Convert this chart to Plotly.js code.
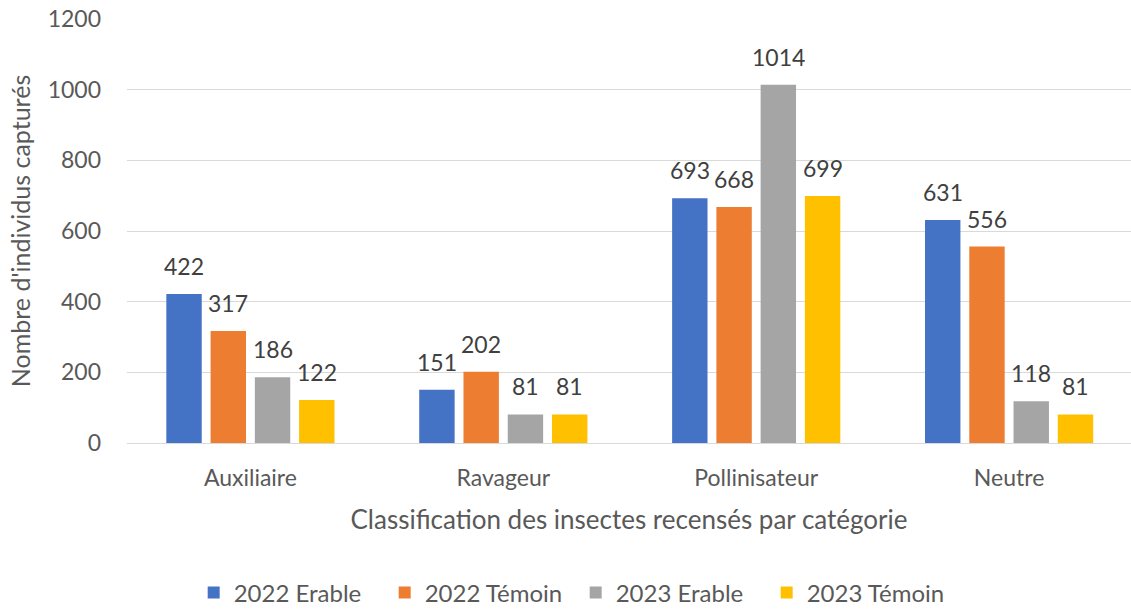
<!DOCTYPE html>
<html><head><meta charset="utf-8">
<script src="https://cdn.plot.ly/plotly-3.0.1.min.js"></script>
<style>html,body{margin:0;padding:0;background:#fff}#c{width:1131px;height:610px}</style>
</head><body><div id="c"></div>
<script>
const categories = ["Auxiliaire", "Ravageur", "Pollinisateur", "Neutre"];
const seriesNames = ["2022 Erable", "2022 Témoin", "2023 Erable", "2023 Témoin"];
const erable2022 = [422, 151, 693, 631];
const temoin2022 = [317, 202, 668, 556];
const erable2023 = [186, 81, 1014, 118];
const temoin2023 = [122, 81, 699, 81];
const colors = ["#4472C4", "#ED7D31", "#A5A5A5", "#FFC000"];
const allValues = [erable2022, temoin2022, erable2023, temoin2023];
const FONT = "Lato, 'Open Sans', sans-serif";

const BARGAP = 0.3;
const nSeries = allValues.length;
const slot = (1 - BARGAP) / nSeries;

const traces = allValues.map((v, i) => ({
  type: "bar", x: categories, y: v, name: seriesNames[i],
  marker: {color: colors[i]},
  hoverinfo: "x+y+name"
}));

// data labels placed above each bar, derived from the arrays
const annotations = [];
allValues.forEach((v, i) => {
  const off = -(1 - BARGAP) / 2 + slot * (i + 0.5);
  v.forEach((val, j) => {
    annotations.push({
      xref: "x", yref: "y", x: j + off, y: val, text: String(val),
      showarrow: false, yanchor: "bottom", xanchor: "center", yshift: 12,
      font: {size: 23, color: "#404040", family: FONT}
    });
  });
});

const layout = {
  width: 1131, height: 610,
  margin: {l: 127, r: 0, t: 19, b: 167},
  paper_bgcolor: "#fff", plot_bgcolor: "#fff",
  font: {family: FONT, color: "#595959"},
  barmode: "group", bargap: BARGAP, bargroupgap: 0.2,
  showlegend: true,
  annotations: annotations,
  legend: {orientation: "h", xref: "container", yref: "container",
    x: 0.509, xanchor: "center", y: 0.028, yanchor: "middle",
    entrywidth: 146, entrywidthmode: "pixels",
    font: {size: 24, color: "#595959", family: FONT}, traceorder: "normal"},
  xaxis: {
    range: [-0.488, 3.482],
    showgrid: false, showline: true, linecolor: "#D9D9D9", linewidth: 1,
    ticks: "", tickfont: {size: 23, color: "#595959"}, ticklabelstandoff: 14,
    title: {text: "Classification des insectes recensés par catégorie",
      font: {size: 26, color: "#595959"}, standoff: 21}
  },
  yaxis: {
    range: [0, 1200], dtick: 200, showgrid: true, gridcolor: "#D9D9D9", gridwidth: 1,
    zeroline: false, showline: false, ticks: "", tickfont: {size: 23, color: "#595959"},
    ticklabelstandoff: 25,
    title: {text: "Nombre d'individus capturés", font: {size: 25, color: "#595959"}, standoff: 9}
  }
};
Plotly.newPlot("c", traces, layout, {displayModeBar: false, staticPlot: true});
</script></body></html>
